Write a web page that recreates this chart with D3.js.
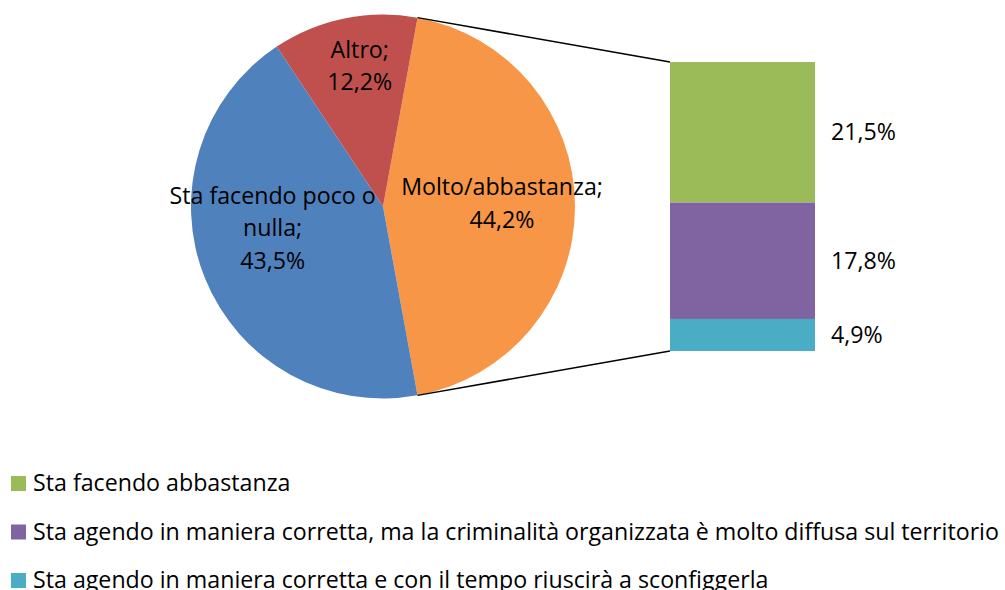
<!DOCTYPE html>
<html>
<head>
<meta charset="utf-8">
<script src="https://cdn.jsdelivr.net/npm/d3@7"></script>
<style>
  body { margin: 0; background: #fff; }
  svg text { font-family: "Open Sans", "Noto Sans", sans-serif; fill: #000; }
</style>
</head>
<body>
<div id="chart"></div>
<script>
// pie data (the first slice is broken down in the bar)
var pieCategories = ["Molto/abbastanza", "Sta facendo poco o nulla", "Altro"];
var pieValues = [44.2, 43.5, 12.2];
var pieColors = ["#F79646", "#4F81BD", "#C0504D"];

// bar-of-pie data
var barCategories = [
  "Sta facendo abbastanza",
  "Sta agendo in maniera corretta, ma la criminalità organizzata è molto diffusa sul territorio",
  "Sta agendo in maniera corretta e con il tempo riuscirà a sconfiggerla"
];
var barValues = [21.5, 17.8, 4.9];
var barColors = ["#9BBB59", "#8064A2", "#4BACC6"];

var fmt = function (v) { return d3.format(".1f")(v).replace(".", ",") + "%"; };

var width = 1005, height = 590;
var svg = d3.select("#chart").append("svg")
    .attr("width", width)
    .attr("height", height);

var fontSize = 23.2;

// ---- pie ----
var cx = 383, cy = 206.5, r = 192;
var total = d3.sum(pieValues);
var a0 = Math.PI / 2 - (pieValues[0] / total) * Math.PI;   // first slice centred on the right

var pie = d3.pie().sort(null).startAngle(a0).endAngle(a0 + 2 * Math.PI);
var arcs = pie(pieValues);
var arc = d3.arc().innerRadius(0).outerRadius(r);

var pieG = svg.append("g").attr("transform", "translate(" + cx + "," + cy + ")");
pieG.selectAll("path")
    .data(arcs)
  .enter().append("path")
    .attr("d", arc)
    .attr("fill", function (d, i) { return pieColors[i]; });

// label placement along each slice's middle angle
var labelRadius = [0.62, 0.62, 0.73];
var labelWrap = 222;
var lh = 32.5;
var labels = pieG.selectAll("text.pie-label")
    .data(arcs)
  .enter().append("text")
    .attr("class", "pie-label")
    .attr("text-anchor", "middle")
    .style("font-size", fontSize + "px");

labels.each(function (d, i) {
  var t = d3.select(this);
  var rr = r * labelRadius[i];
  var c = d3.arc().innerRadius(rr).outerRadius(rr).centroid(d);
  // wrap the category name
  var words = (pieCategories[i] + ";").split(" ");
  var lines = [], line = [];
  var probe = t.append("tspan");
  words.forEach(function (w) {
    line.push(w);
    probe.text(line.join(" "));
    if (probe.node().getComputedTextLength() > labelWrap && line.length > 1) {
      line.pop();
      lines.push(line.join(" "));
      line = [w];
    }
  });
  lines.push(line.join(" "));
  probe.remove();
  lines.push(fmt(pieValues[i]));
  var y0 = c[1] - (lines.length - 1) * lh / 2 + 5;
  if (lines.length > 2) y0 -= 20;
  var x0 = c[0] + (i === 2 ? 5 : 0);
  lines.forEach(function (s, k) {
    t.append("tspan")
      .attr("x", x0)
      .attr("y", y0 + k * lh)
      .text(s);
  });
});

// ---- bar ----
var barX = 670, barW = 145;
var y = d3.scaleLinear().domain([0, d3.sum(barValues)]).range([62, 351]);
var stacked = [];
var acc = 0;
barValues.forEach(function (v, i) { stacked.push({ v: v, y0: acc, y1: acc + v, i: i }); acc += v; });

svg.selectAll("rect.bar")
    .data(stacked)
  .enter().append("rect")
    .attr("class", "bar")
    .attr("x", barX)
    .attr("width", barW)
    .attr("y", function (d) { return y(d.y0); })
    .attr("height", function (d) { return y(d.y1) - y(d.y0); })
    .attr("fill", function (d) { return barColors[d.i]; });

svg.selectAll("text.bar-label")
    .data(stacked)
  .enter().append("text")
    .attr("class", "bar-label")
    .attr("x", barX + barW + 16)
    .attr("y", function (d) { return (y(d.y0) + y(d.y1)) / 2 + 8; })
    .style("font-size", fontSize + "px")
    .text(function (d) { return fmt(d.v); });

// connector lines from the pie slice edges to the bar
var pStart = [cx + r * Math.sin(arcs[0].startAngle), cy - r * Math.cos(arcs[0].startAngle)];
var pEnd = [cx + r * Math.sin(arcs[0].endAngle), cy - r * Math.cos(arcs[0].endAngle)];
svg.append("line")
    .attr("x1", pStart[0]).attr("y1", pStart[1])
    .attr("x2", barX).attr("y2", y(0))
    .attr("stroke", "#000").attr("stroke-width", 1.5);
svg.append("line")
    .attr("x1", pEnd[0]).attr("y1", pEnd[1])
    .attr("x2", barX).attr("y2", y(d3.sum(barValues)))
    .attr("stroke", "#000").attr("stroke-width", 1.5);

// ---- legend ----
var legend = svg.selectAll("g.legend")
    .data(barCategories)
  .enter().append("g")
    .attr("class", "legend")
    .attr("transform", function (d, i) { return "translate(11," + (491 + i * 48.5) + ")"; });

legend.append("rect")
    .attr("x", 0).attr("y", -15)
    .attr("width", 15).attr("height", 15)
    .attr("fill", function (d, i) { return barColors[i]; });

legend.append("text")
    .attr("x", 22)
    .attr("y", 0)
    .style("font-size", fontSize + "px")
    .text(function (d) { return d; });
</script>
</body>
</html>
